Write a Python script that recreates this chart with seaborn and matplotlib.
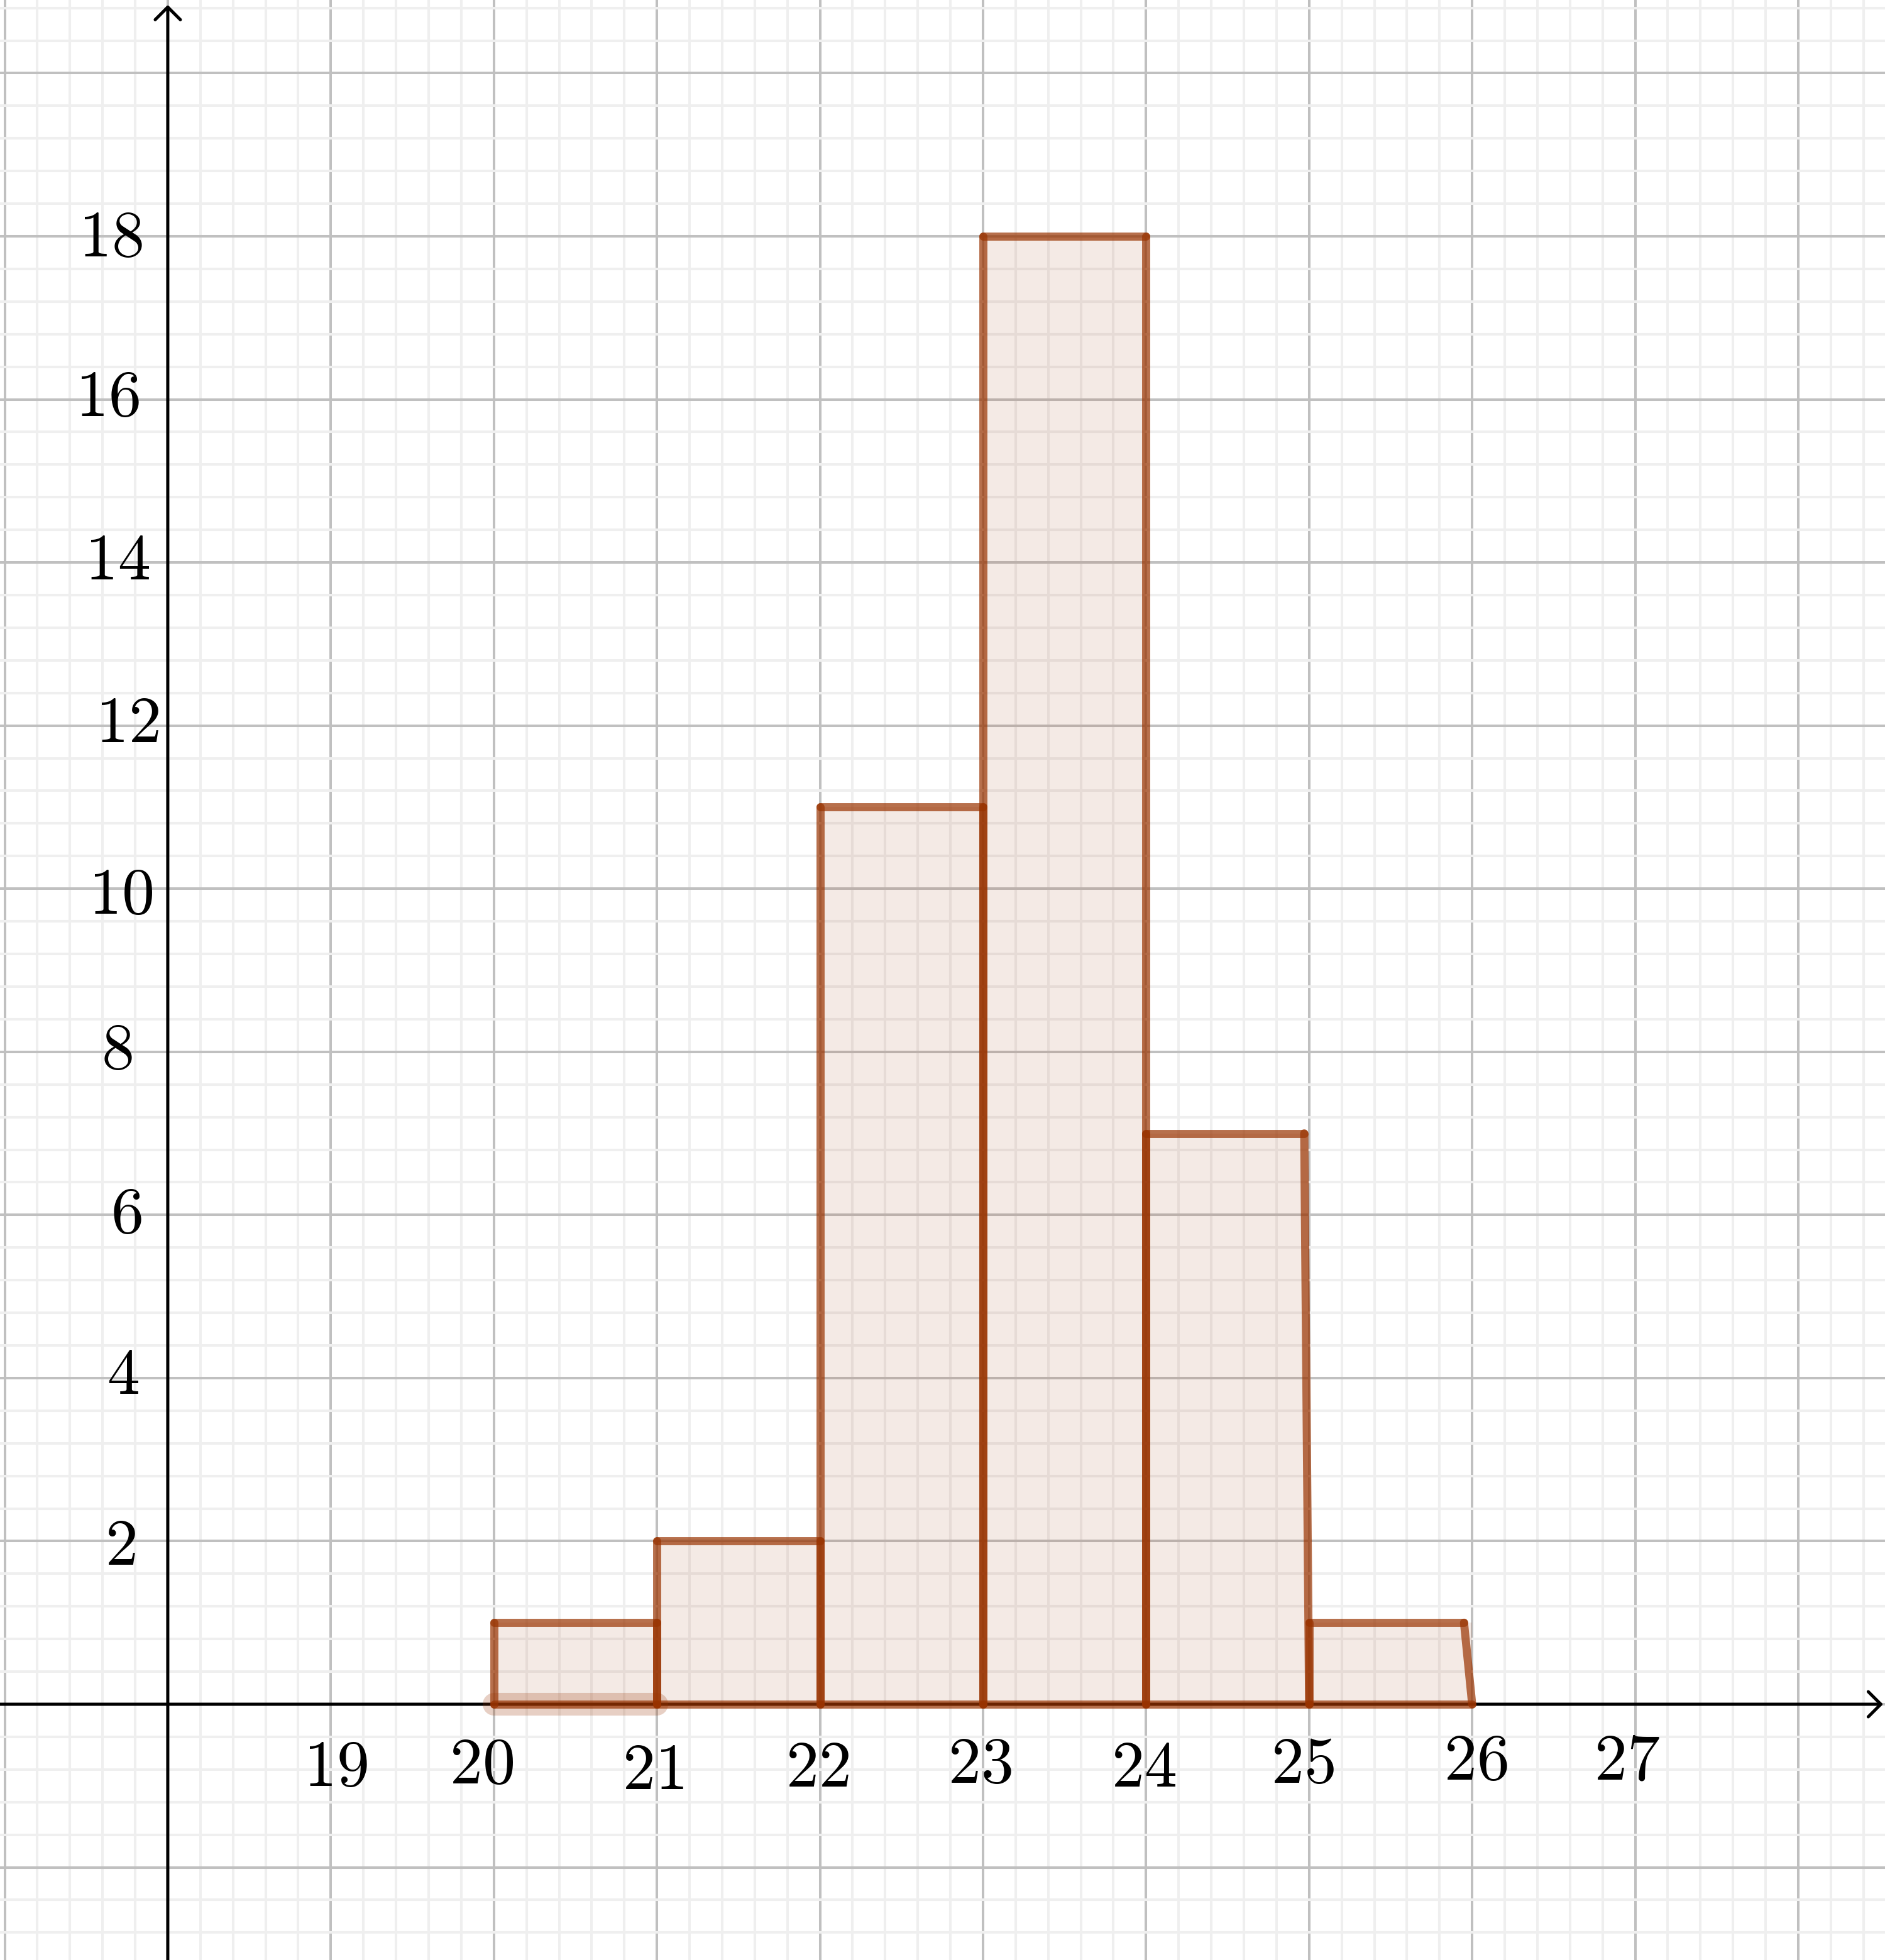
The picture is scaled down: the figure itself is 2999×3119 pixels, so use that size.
import numpy as np
import matplotlib
matplotlib.use('Agg')
import matplotlib.pyplot as plt
import matplotlib.transforms as mtrans
import seaborn as sns

# histogram data
bin_edges = [20, 21, 22, 23, 24, 25, 26]
counts = [1, 2, 11, 18, 7, 1]
# top right corner of each bar as drawn in the picture (last two are a bit off)
top_right = [21, 22, 23, 24, 24.97, 25.95]

x_labels = [19, 20, 21, 22, 23, 24, 25, 26, 27]
y_labels = [2, 4, 6, 8, 10, 12, 14, 16, 18]

# the labels are hand placed, nudges in pixels (dx right, dy down)
x_nudge = [(8, 101), (-20, 97), (-6, 106), (-4, 102), (-5, 96), (-4, 102), (-10, 96), (6, 91), (-13, 91)]
y_nudge = [(-76, 9), (-71, -3), (-66, 0), (-81, -1), (-75, 11), (-65, -2), (-80, -1.5), (-96, -2), (-91, 4)]

brown = '#993300'
xmin, xmax = 16.971, 28.532
ymin, ymax = -3.136, 20.897

sns.set_theme(style='white')
plt.rcParams['mathtext.fontset'] = 'cm'

fig = plt.figure(figsize=(29.99, 31.19), dpi=100)
ax = fig.add_axes([0, 0, 1, 1])

# fill of the bars
mids = (np.array(bin_edges[:-1]) + np.array(bin_edges[1:])) / 2
sns.histplot(x=mids, weights=counts, bins=bin_edges, stat='count', color=brown,
             alpha=0.1, linewidth=0, edgecolor='none', ax=ax, zorder=1.5)

# outlines, one segment at a time like geogebra does
for i, h in enumerate(counts):
    l, r, tr = bin_edges[i], bin_edges[i + 1], top_right[i]
    for xs, ys in [([l, r], [0, 0]), ([l, l], [0, h]), ([l, tr], [h, h]), ([tr, r], [h, 0])]:
        ax.plot(xs, ys, color=brown, alpha=0.7, lw=9.3, solid_capstyle='round', zorder=3)

# selected segment highlight
ax.plot(bin_edges[:2], [0, 0], color=brown, alpha=0.23, lw=26, solid_capstyle='round', zorder=2.5)

# axes with arrows
arrow = dict(arrowstyle='->,head_length=0.4,head_width=0.4', color='black', lw=3.6,
             shrinkA=0, shrinkB=0, mutation_scale=36)
ax.annotate('', xy=(xmax - 0.012, 0), xytext=(xmin, 0), arrowprops=arrow, zorder=2)
ax.annotate('', xy=(18, ymax - 0.06), xytext=(18, ymin), arrowprops=arrow, zorder=2)

# labels
for v, (dx, dy) in zip(x_labels, x_nudge):
    tr_ = mtrans.offset_copy(ax.transData, fig=fig, x=dx, y=-dy, units='dots')
    ax.text(v, 0, f'${v}$', fontsize=75, ha='center', va='center', transform=tr_, color='black')
for v, (dx, dy) in zip(y_labels, y_nudge):
    tr_ = mtrans.offset_copy(ax.transData, fig=fig, x=dx, y=-dy, units='dots')
    ax.text(18, v, f'${v}$', fontsize=75, ha='center', va='center', transform=tr_, color='black')

# grid
ax.set_xticks(np.arange(17, 29))
ax.set_xticks(np.round(np.arange(17, 28.6, 0.2), 1), minor=True)
ax.set_yticks(np.arange(-2, 21, 2))
ax.set_yticks(np.round(np.arange(-2.8, 21, 0.4), 1), minor=True)
ax.grid(which='minor', color='#efefef', lw=2.9)
ax.grid(which='major', color='#c0c0c0', lw=2.9)
ax.tick_params(which='both', length=0, labelbottom=False, labelleft=False)
ax.set_axisbelow(True)
for s in ax.spines.values():
    s.set_visible(False)
ax.set_xlabel('')
ax.set_ylabel('')
ax.set_xlim(xmin, xmax)
ax.set_ylim(ymin, ymax)

fig.savefig('out.png', dpi=100)
